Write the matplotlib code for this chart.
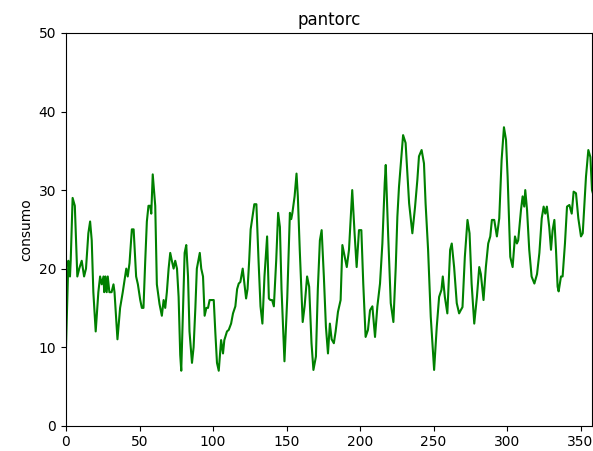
"""
Daily consumption line chart for pantorc.
"""

import matplotlib

matplotlib.use("Agg")
import matplotlib.pyplot as plt


# day index and consumption values
DAYS = [
    0, 1.6, 2.7, 3.2, 4.5, 6, 7.7, 9, 10.7, 12.3, 13.6, 15.2, 16.4, 17.5, 18.6,
    20.2, 22, 23.2, 24.3, 25.5, 26, 26.8, 27.7, 28.4, 29.5, 31, 32.3, 33, 34,
    35, 36.8, 38.6, 40.2, 41, 42, 43.2, 44.8, 46, 47.7, 48.9, 50.5, 51.6, 52.7,
    53.9, 55, 56.1, 57.3, 58, 59, 60.7, 61.8, 63.6, 65.2, 66.4, 67.5, 68.6,
    69.8, 70.9, 72, 73.2, 74.3, 75.5, 76.6, 77.7, 78.4, 79.5, 80.7, 81.8, 83,
    84, 85.7, 86.8, 88, 89, 91, 92, 93.2, 94.3, 95.5, 96.6, 97.7, 100.5, 101.6,
    102.7, 103.9, 105.5, 106.8, 107.7, 109.5, 110.7, 112.3, 113.6, 115.2,
    116.4, 117.5, 118.6, 120.2, 122.5, 123.5, 124.6, 125.6, 127.2, 128.1,
    129.5, 131, 132.3, 133.6, 135, 136.8, 138, 139, 140.2, 141.4, 143, 144.3,
    145.5, 146.6, 148.6, 150.5, 152.3, 153.2, 154, 155.5, 156.8, 157.7, 159,
    161, 162.3, 164, 165.4, 167, 168.3, 170, 171.3, 172.7, 173.9, 175.4, 176.8,
    178.2, 179.5, 180.7, 182.2, 183.4, 185, 186.8, 188, 191, 192.5, 194.7,
    196.3, 197.7, 199.3, 200.9, 202.2, 203.8, 205.4, 206.8, 208.4, 210.2,
    211.8, 213.6, 215.2, 216.8, 217.5, 219.1, 220.9, 222.7, 224.3, 225.4,
    226.5, 229.3, 231, 233.4, 235.6, 237.4, 239, 240.1, 241.9, 243.5, 244.6,
    246.3, 248.1, 250.4, 252.2, 253.8, 255.4, 256.3, 257.7, 259.4, 261.3,
    262.4, 264, 265.8, 267.4, 268.5, 269.7, 271.3, 273.1, 274.5, 275.9, 277.7,
    279.5, 281.1, 282.2, 284, 285.6, 287.2, 288.6, 289.7, 291.3, 293.1, 294.7,
    296.3, 297.9, 299.3, 300.4, 302.2, 303.8, 305.4, 306.7, 307.6, 309.5,
    310.6, 311.7, 312.4, 313.6, 315.1, 316.7, 318.6, 320.4, 322, 323.6, 324.9,
    326, 327.1, 328.7, 329.9, 331, 332.2, 333.3, 334.4, 335.1, 336.7, 337.8,
    339.4, 340.8, 342.4, 344, 345.3, 346.9, 348.5, 350.3, 351.5, 353.7, 355.3,
    356.7, 357.8, 359,
]

CONSUMO = [
    10, 21, 19, 21, 29, 28, 19, 20, 21, 19, 20, 24.5, 26, 23.6, 17,
    12, 17, 19, 18, 19, 17, 19, 17, 19, 17, 17, 18, 17, 14,
    11, 15, 17, 19, 20, 19, 20.7, 25, 25, 19, 18, 16, 15, 15,
    21, 26, 28, 28, 27, 32, 28, 18, 15.5, 14, 16, 15, 17,
    20, 22, 21, 20, 21, 20, 16.4, 9, 7, 14, 22, 23, 19,
    12, 8, 10, 15, 20, 22, 20, 19, 14, 15, 15, 16, 16, 11.8,
    8, 7, 10.9, 9.2, 10.9, 12, 12.2, 13, 14.3, 15.2,
    17.4, 18.1, 18.3, 20, 16.2, 17.4, 21, 25, 27.1, 28.2,
    28.2, 20.9, 15.2, 13, 19, 24.1, 16.2, 16, 16, 15.2, 21.1, 27.1,
    25.3, 17.4, 8.2, 16.3, 27.1, 26.3, 27.1, 29.2, 32.1, 29.2, 22.4,
    13.2, 15.2, 19, 17.7, 10.5, 7.1, 8.8, 17.4, 23.6, 24.9, 19, 12.6,
    9.2, 13, 11, 10.5, 12, 14.5, 16, 23, 20.2, 22.4, 30,
    24.5, 20.2, 24.9, 24.9, 18.1, 11.3, 12.2, 14.7, 15.2, 11.3,
    15.2, 18.1, 23.2, 30.9, 33.2, 24.5, 15.6, 13.2, 20.2, 26.6,
    30.4, 37, 36, 28.3, 24.5, 27.8, 31.3, 34.3, 35.1, 33.4, 28.3,
    22.4, 13.9, 7.1, 12.6, 16.4, 17.3, 19, 16.4, 14.3, 22.4,
    23.2, 20.2, 15.6, 14.3, 14.7, 15.1, 21.5, 26.2, 24.5, 18.1, 13,
    16.4, 20.2, 19.3, 16, 20.2, 23.2, 24.1, 26.2, 26.2, 24.1, 26.4,
    33.8, 38, 36.4, 31.7, 21.5, 20.2, 24.1, 23.2, 23.6, 27.5,
    29.2, 27.9, 30, 27.5, 22.4, 19, 18.1, 19.3, 22, 26.4, 27.9,
    27, 27.9, 25.3, 22.4, 24.9, 26.2, 22.4, 17.7, 17.1, 19, 19,
    23.2, 27.9, 28.1, 27, 29.8, 29.6, 26.4, 24.1, 24.5, 31.7, 35.1,
    34.2, 30, 29.2,
]

TITLE = "pantorc"
Y_LABEL = "consumo"


def main():
    fig = plt.figure(figsize=(5.93, 4.51), dpi=100)
    ax = fig.add_axes([66 / 593, 25.3 / 451, 526.3 / 593, 392.7 / 451])

    ax.plot(DAYS, CONSUMO, color="green", linewidth=1.5)

    ax.set_xlim(0, 358)
    ax.set_ylim(0, 50)
    ax.set_xticks([0, 50, 100, 150, 200, 250, 300, 350])
    ax.set_yticks([0, 10, 20, 30, 40, 50])
    ax.set_title(TITLE)
    ax.set_ylabel(Y_LABEL)

    fig.savefig("out.png", dpi=100)


if __name__ == "__main__":
    main()
